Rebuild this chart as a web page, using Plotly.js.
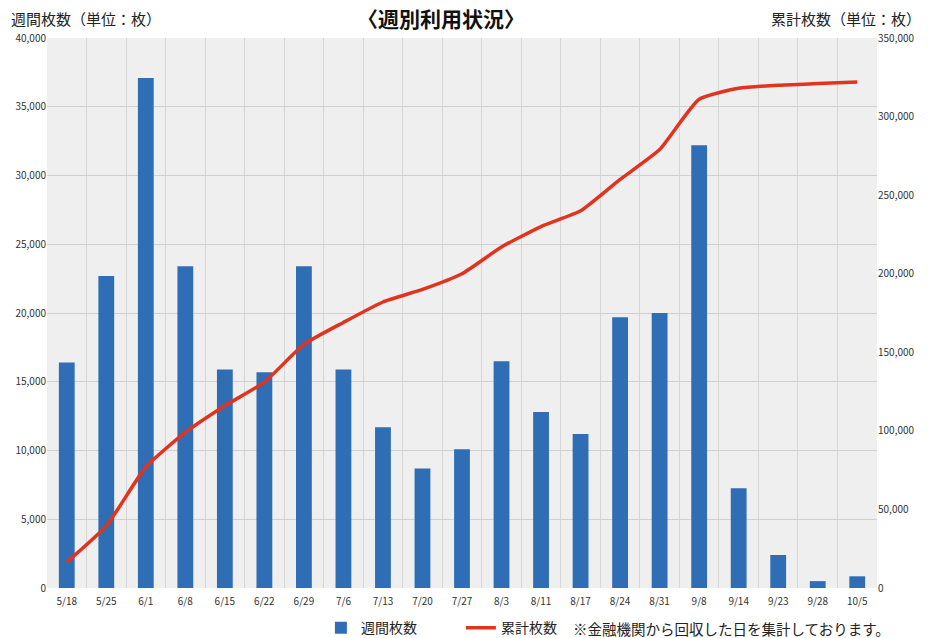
<!DOCTYPE html>
<html>
<head>
<meta charset="utf-8">
<script src="https://cdn.plot.ly/plotly-3.0.1.min.js"></script>
<style>html,body{margin:0;padding:0;background:#fff;}#chart{width:928px;height:638px;}</style>
</head>
<body>
<div id="chart"></div>
<script>
const weeks = ["5/18","5/25","6/1","6/8","6/15","6/22","6/29","7/6","7/13","7/20","7/27","8/3","8/11","8/17","8/24","8/31","9/8","9/14","9/23","9/28","10/5"];
const weeklyCount = [16400,22700,37100,23400,15900,15700,23400,15900,11700,8700,10100,16500,12800,11200,19700,20000,32200,7250,2400,500,850];
const cumulativeCount = [16400,39500,77000,99000,116000,131000,155000,169000,182000,190000,200000,217000,230000,240000,260000,279000,311000,318000,320000,321000,322000];
const leftTicks = [0,5000,10000,15000,20000,25000,30000,35000,40000];
const rightTicks = [0,50000,100000,150000,200000,250000,300000,350000];

const jp = '"Noto Sans CJK JP", "Noto Sans", sans-serif';
const fmt = v => v.toLocaleString('en-US');

const traces = [
  {type:'bar', name:'週間枚数', x:weeks, y:weeklyCount, marker:{color:'#2f6eb5'}, yaxis:'y'},
  {type:'scatter', mode:'lines', name:'累計枚数', x:weeks, y:cumulativeCount, yaxis:'y2',
   line:{color:'#e2331f', width:3.5, shape:'spline', smoothing:0.5}}
];

const layout = {
  width:928, height:638,
  margin:{l:47, r:51, t:38, b:50, autoexpand:false},
  paper_bgcolor:'#ffffff', plot_bgcolor:'#efefef',
  bargap:0.6,
  font:{family:jp, color:'#333'},
  xaxis:{type:'category', tickson:'boundaries', showgrid:true, gridcolor:'#d6d6d6', gridwidth:1,
         ticks:'', tickangle:0, tickfont:{size:10, color:'#333'}, showline:false, zeroline:false,
         range:[-0.5, 20.5], automargin:false, ticklabelstandoff:6},
  yaxis:{range:[0,40000], tickvals:leftTicks, ticktext:leftTicks.map(fmt), showgrid:true, gridcolor:'#d0d0d0',
         tickfont:{size:10, color:'#333'}, zeroline:false, automargin:false},
  yaxis2:{range:[0,350000], overlaying:'y', side:'right', tickvals:rightTicks, ticktext:rightTicks.map(fmt),
          showgrid:false, zeroline:false, tickfont:{size:10, color:'#333'}, automargin:false},
  showlegend:true,
  legend:{orientation:'h', x:0.33, xanchor:'left', y:-0.073, yanchor:'middle', font:{size:14, color:'#222'},
          entrywidth:95, traceorder:'normal', bgcolor:'rgba(0,0,0,0)'},
  annotations:[
    {text:'〈週別利用状況〉', x:0.475, xref:'paper', y:1.036, yref:'paper', yanchor:'middle', showarrow:false,
     font:{size:21, color:'#111', family:jp, weight:'bold'}},
    {text:'週間枚数（単位：枚）', x:-0.046, xref:'paper', xanchor:'left', y:1.036, yref:'paper', yanchor:'middle',
     showarrow:false, font:{size:15, color:'#222', family:jp}},
    {text:'累計枚数（単位：枚）', x:1.055, xref:'paper', xanchor:'right', y:1.036, yref:'paper', yanchor:'middle',
     showarrow:false, font:{size:15, color:'#222', family:jp}},
    {text:'※金融機関から回収した日を集計しております。', x:1.018, xref:'paper', xanchor:'right', y:-0.073, yref:'paper', yanchor:'middle',
     showarrow:false, font:{size:14.5, color:'#222', family:jp}}
  ]
};

Plotly.newPlot('chart', traces, layout, {displayModeBar:false, staticPlot:true});
</script>
</body>
</html>
